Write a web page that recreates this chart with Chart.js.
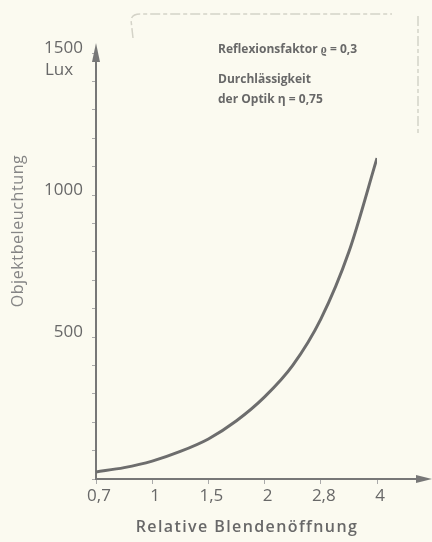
<!DOCTYPE html>
<html lang="de">
<head>
<meta charset="utf-8">
<title>Objektbeleuchtung</title>
<script src="https://cdn.jsdelivr.net/npm/chart.js@4/dist/chart.umd.min.js"></script>
<style>
  html, body { margin: 0; padding: 0; background: #fbfaf0; }
  canvas { display: block; }
</style>
</head>
<body>
<canvas id="lichtChart" width="432" height="542"></canvas>
<script>
// Blendenstufen (Position auf der Achse) und Tick-Beschriftungen
const blendenLabels = ['0,7', '1', '1,5', '2', '2,8', '4'];
const blendenStufe = [0, 0.5, 1, 1.5, 2, 2.5, 3, 3.5, 4, 4.5, 5];
// Objektbeleuchtung in Lux
const beleuchtung = [25, 40, 63, 97, 141, 205, 289, 400, 563, 800, 1130];

const textFarbe = '#686868';
const achsenFarbe = '#777777';

// Achsenpfeile, Zusatzbeschriftungen und Achsentitel
const beschriftung = {
  id: 'beschriftung',
  afterDraw(chart) {
    const ctx = chart.ctx;
    const area = chart.chartArea;
    ctx.save();

    // leichter Rahmen oben
    ctx.strokeStyle = '#d4d3c8';
    ctx.lineWidth = 1.5;
    ctx.setLineDash([10, 3, 4, 3]);
    ctx.beginPath();
    ctx.moveTo(133, 38);
    ctx.lineTo(131, 20);
    ctx.quadraticCurveTo(132, 14, 140, 14);
    ctx.lineTo(392, 14);
    ctx.moveTo(418, 16);
    ctx.lineTo(418, 135);
    ctx.stroke();
    ctx.setLineDash([]);

    ctx.strokeStyle = achsenFarbe;
    ctx.fillStyle = achsenFarbe;
    ctx.lineWidth = 2;

    // Pfeil an der y-Achse
    ctx.beginPath();
    ctx.moveTo(area.left, area.top);
    ctx.lineTo(area.left, 50);
    ctx.stroke();
    ctx.beginPath();
    ctx.moveTo(area.left, 43);
    ctx.lineTo(area.left - 4, 62);
    ctx.lineTo(area.left + 4, 62);
    ctx.closePath();
    ctx.fill();

    // Pfeil an der x-Achse
    ctx.beginPath();
    ctx.moveTo(area.right, area.bottom);
    ctx.lineTo(422, area.bottom);
    ctx.stroke();
    ctx.beginPath();
    ctx.moveTo(432, area.bottom);
    ctx.lineTo(416, area.bottom - 4);
    ctx.lineTo(416, area.bottom + 4);
    ctx.closePath();
    ctx.fill();

    ctx.fillStyle = textFarbe;
    ctx.textBaseline = 'middle';

    ctx.font = '17px "Open Sans"';
    ctx.textAlign = 'left';
    ctx.fillText('Lux', 45, 70);

    ctx.font = 'bold 12px "Open Sans"';
    ctx.fillText('Reflexionsfaktor \u03f1 = 0,3', 218, 50);
    ctx.fillText('Durchlässigkeit', 218, 80);
    ctx.fillText('der Optik \u03b7 = 0,75', 218, 100);

    ctx.textAlign = 'center';
    ctx.font = '600 16px "Open Sans"';
    ctx.letterSpacing = '1.4px';
    ctx.fillText('Relative Blendenöffnung', 247, 527);

    ctx.fillStyle = '#858585';
    ctx.font = '16px "Open Sans"';
    ctx.letterSpacing = '0.6px';
    ctx.translate(18, 231);
    ctx.rotate(-Math.PI / 2);
    ctx.fillText('Objektbeleuchtung', 0, 0);
    ctx.restore();
  }
};

new Chart(document.getElementById('lichtChart'), {
  type: 'line',
  data: {
    datasets: [{
      data: blendenStufe.map((x, i) => ({ x: x, y: beleuchtung[i] })),
      borderColor: '#6d6d6d',
      borderWidth: 3,
      pointRadius: 0,
      cubicInterpolationMode: 'monotone',
      fill: false
    }]
  },
  options: {
    responsive: false,
    animation: false,
    layout: { padding: { left: 0, top: 53, right: 55, bottom: 0 } },
    plugins: { legend: { display: false }, tooltip: { enabled: false } },
    scales: {
      x: {
        type: 'linear',
        min: 0,
        max: blendenLabels.length - 1,
        afterFit(scale) { scale.height = 63; },
        afterBuildTicks(scale) {
          scale.ticks = blendenLabels.map((_, i) => ({ value: i }));
        },
        ticks: {
          color: textFarbe,
          font: { family: 'Open Sans', size: 17 },
          padding: 2,
          labelOffset: 3,
          maxRotation: 0,
          callback: (v) => blendenLabels[v]
        },
        grid: { drawOnChartArea: false, tickLength: 5, color: '#aaaaaa' },
        border: { color: achsenFarbe, width: 2 }
      },
      y: {
        min: 0,
        max: 1500,
        afterFit(scale) { scale.width = 96; },
        ticks: {
          stepSize: 100,
          color: textFarbe,
          font: { family: 'Open Sans', size: 17 },
          padding: 9,
          labelOffset: -5,
          callback: (v) => (v > 0 && v % 500 === 0 ? v : '')
        },
        grid: { drawOnChartArea: false, tickLength: 4, color: '#aaaaaa' },
        border: { color: achsenFarbe, width: 2 }
      }
    }
  },
  plugins: [beschriftung]
});
</script>
</body>
</html>
